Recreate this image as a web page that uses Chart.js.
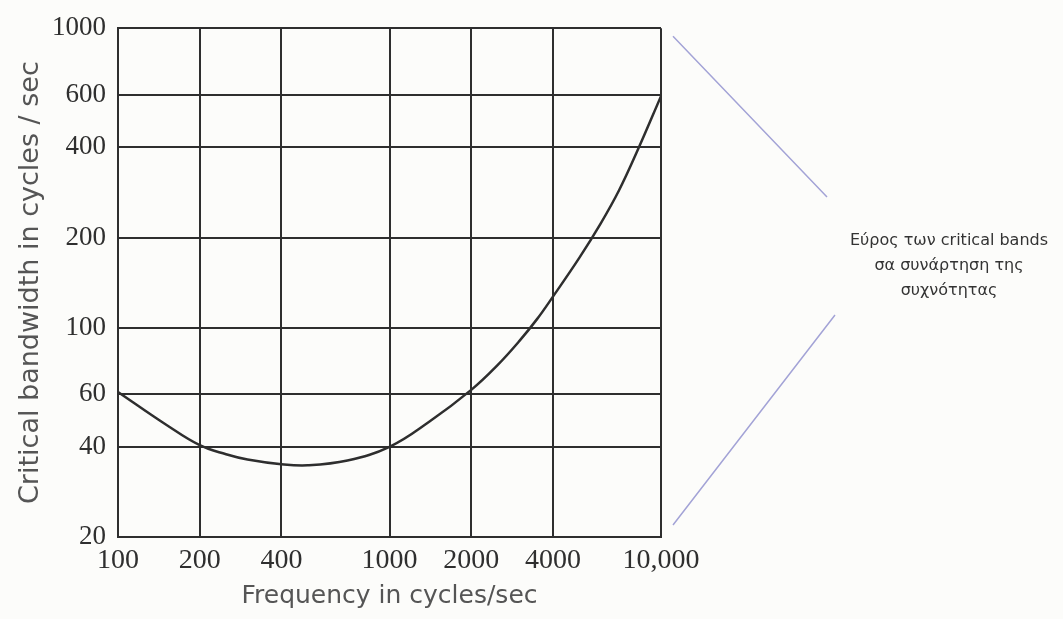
<!DOCTYPE html>
<html>
<head>
<meta charset="utf-8">
<script src="https://cdn.jsdelivr.net/npm/chart.js@4.4.0/dist/chart.umd.min.js"></script>
<style>
    html, body { margin: 0; padding: 0; background: #fcfcfa; }
    #wrap { width: 1063px; height: 619px; position: relative; }
</style>
</head>
<body>
<div id="wrap"><canvas id="bandChart" width="1063" height="619"></canvas></div>
<script>
// Critical bandwidth curve
const frequencies = [100, 150, 200, 250, 300, 400, 500, 700, 1000, 1400, 2000, 2500, 3000, 3500, 4000, 5000, 6000, 7000, 8200, 10000];
const bandwidths = [61, 47.5, 40.5, 37.8, 36.3, 35, 34.7, 36, 40, 48.5, 62, 75, 90, 107, 127, 171, 223, 287, 391, 593];

const xTicks = [100, 200, 400, 1000, 2000, 4000, 10000];
const yTicks = [20, 40, 60, 100, 200, 400, 600, 1000];

const noteLines = ['Εύρος των critical bands', 'σα συνάρτηση της', 'συχνότητας'];

const inkColor = '#2e2e2e';
const labelColor = '#2f2f2f';

// Callout on the right: two thin lines pointing at the note
const calloutPlugin = {
    id: 'callout',
    afterDraw(chart) {
        const ctx = chart.ctx;
        const area = chart.chartArea;
        ctx.save();
        ctx.strokeStyle = '#a3a3d6';
        ctx.lineWidth = 1.5;
        ctx.beginPath();
        ctx.moveTo(area.right + 12, area.top + 8);
        ctx.lineTo(area.right + 166, 197);
        ctx.moveTo(area.right + 174, 315);
        ctx.lineTo(area.right + 12, area.bottom - 12);
        ctx.stroke();

        ctx.fillStyle = '#333';
        ctx.font = '16px "DejaVu Sans", sans-serif';
        ctx.textAlign = 'center';
        ctx.textBaseline = 'middle';
        noteLines.forEach(function(line, i) {
            ctx.fillText(line, 949, 241 + i * 25);
        });
        ctx.restore();
    }
};

const ctx = document.getElementById('bandChart').getContext('2d');

new Chart(ctx, {
    type: 'line',
    data: {
        datasets: [{
            data: frequencies.map((f, i) => ({ x: f, y: bandwidths[i] })),
            borderColor: inkColor,
            borderWidth: 2.5,
            pointRadius: 0,
            fill: false,
            tension: 0.4
        }]
    },
    options: {
        responsive: false,
        animation: false,
        layout: { padding: { top: 27, right: 402, left: 0, bottom: 0 } },
        plugins: {
            legend: { display: false },
            tooltip: { enabled: false }
        },
        scales: {
            x: {
                type: 'logarithmic',
                min: 100,
                max: 10000,
                afterBuildTicks: function(scale) {
                    scale.ticks = xTicks.map(v => ({ value: v }));
                },
                afterFit: function(scale) { scale.height = 82; },
                ticks: {
                    color: labelColor,
                    padding: 7,
                    maxRotation: 0,
                    autoSkip: false,
                    font: { family: '"Liberation Serif", serif', size: 28 },
                    callback: function(value) {
                        return value === 10000 ? '10,000' : String(value);
                    }
                },
                grid: {
                    color: inkColor,
                    lineWidth: 2,
                    drawTicks: false
                },
                border: { color: inkColor, width: 2 },
                title: {
                    display: true,
                    text: 'Frequency in cycles/sec',
                    color: '#555',
                    padding: { top: 0, bottom: 8 },
                    font: { family: '"DejaVu Sans", sans-serif', size: 25 }
                }
            },
            y: {
                type: 'logarithmic',
                min: 20,
                max: 1000,
                afterBuildTicks: function(scale) {
                    scale.ticks = yTicks.map(v => ({ value: v }));
                },
                afterFit: function(scale) { scale.width = 118; },
                ticks: {
                    color: labelColor,
                    padding: 12,
                    autoSkip: false,
                    font: { family: '"Liberation Serif", serif', size: 27 },
                    callback: function(value) { return String(value); }
                },
                grid: {
                    color: inkColor,
                    lineWidth: 2,
                    drawTicks: false
                },
                border: { color: inkColor, width: 2 },
                title: {
                    display: true,
                    text: 'Critical bandwidth in cycles / sec',
                    color: '#555',
                    padding: { top: 15, bottom: 0 },
                    font: { family: '"DejaVu Sans", sans-serif', size: 27 }
                }
            }
        }
    },
    plugins: [calloutPlugin]
});
</script>
</body>
</html>
